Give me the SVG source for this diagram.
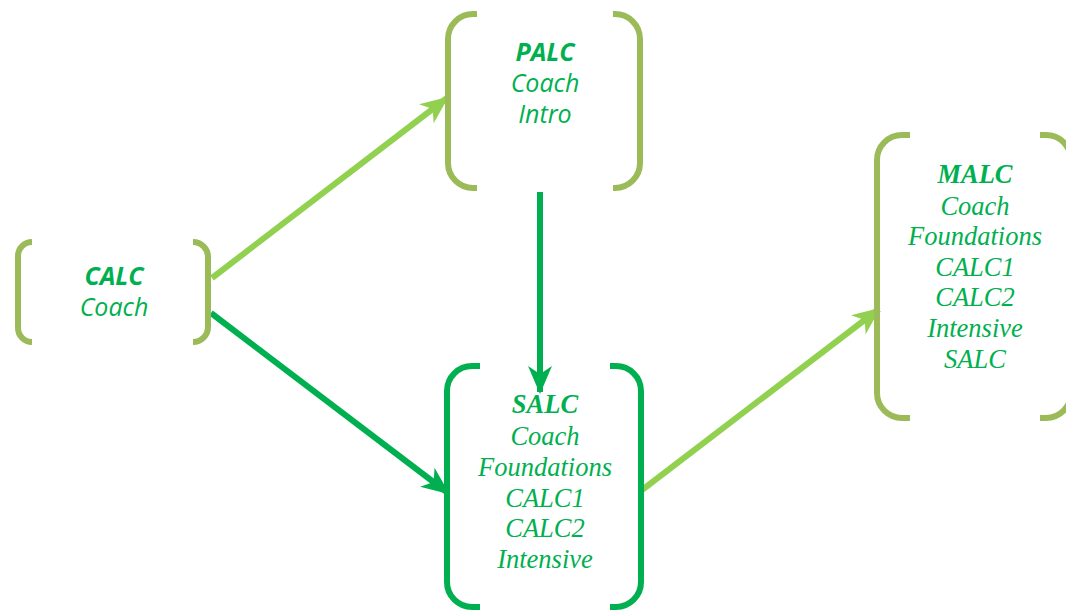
<svg xmlns="http://www.w3.org/2000/svg" width="1066" height="611" viewBox="0 0 1066 611">
<defs>
<style>
.br{fill:none;stroke-width:6}
.olive{stroke:#9BBB59}
.dark{stroke:#00B050}
.ln{fill:none;stroke-width:6}
.sans{font-family:"Open Sans","DejaVu Sans",sans-serif;font-style:italic;font-size:25px;fill:#00B050;text-anchor:middle}
.serif{font-family:"Liberation Serif","Times New Roman",serif;font-style:italic;font-size:26.5px;fill:#00B050;text-anchor:middle}
.b{font-weight:bold}
</style>
<marker id="al" markerUnits="userSpaceOnUse" markerWidth="28" markerHeight="24" refX="26" refY="12" orient="auto" viewBox="0 0 28 24">
<path d="M0,0 L28,12 L0,24 L8,12 Z" fill="#92D050"/>
</marker>
<marker id="ad" markerUnits="userSpaceOnUse" markerWidth="28" markerHeight="24" refX="26" refY="12" orient="auto" viewBox="0 0 28 24">
<path d="M0,0 L28,12 L0,24 L8,12 Z" fill="#00B050"/>
</marker>
</defs>
<rect width="1066" height="611" fill="#fff"/>
<g id="connectors">
<line class="ln" x1="212" y1="278" x2="447" y2="98" stroke="#92D050" marker-end="url(#al)"/>
<line class="ln" x1="211" y1="313" x2="448" y2="493" stroke="#00B050" marker-end="url(#ad)"/>
<line class="ln" x1="540" y1="192" x2="540" y2="392" stroke="#00B050" stroke-width="7" marker-end="url(#ad)"/>
<line class="ln" x1="642" y1="490" x2="879" y2="309" stroke="#92D050" marker-end="url(#al)"/>
</g>
<g id="calc">
<path class="br olive" d="M32,242 A14,14 0 0 0 18,256 V328 A14,14 0 0 0 32,342"/>
<path class="br olive" d="M193,242 A15,15 0 0 1 208,257 V327 A15,15 0 0 1 193,342"/>
<text class="sans"><tspan class="b" x="114" y="285">CALC</tspan><tspan x="114" y="316">Coach</tspan></text>
</g>
<g id="palc">
<path class="br olive" d="M477,14 H473 A25,25 0 0 0 448,39 V163 A25,25 0 0 0 473,188 H477"/>
<path class="br olive" d="M613,14 H615 A25,25 0 0 1 640,39 V163 A25,25 0 0 1 615,188 H613"/>
<text class="sans"><tspan class="b" x="545" y="61">PALC</tspan><tspan x="545" y="92">Coach</tspan><tspan x="545" y="123">Intro</tspan></text>
</g>
<g id="salc">
<path class="br dark" d="M480,366 H472 A25,25 0 0 0 447,391 V582 A25,25 0 0 0 472,607 H480"/>
<path class="br dark" d="M610,366 H616 A25,25 0 0 1 641,391 V582 A25,25 0 0 1 616,607 H610"/>
<text class="serif"><tspan class="b" x="545" y="413">SALC</tspan><tspan x="545" y="445">Coach</tspan><tspan x="545" y="476">Foundations</tspan><tspan x="545" y="507">CALC1</tspan><tspan x="545" y="537">CALC2</tspan><tspan x="545" y="568">Intensive</tspan></text>
</g>
<g id="malc">
<path class="br olive" d="M910,135 H902 A25,25 0 0 0 877,160 V393 A25,25 0 0 0 902,418 H910"/>
<path class="br olive" d="M1040,135 H1046 A25,25 0 0 1 1071,160 V393 A25,25 0 0 1 1046,418 H1040"/>
<text class="serif"><tspan class="b" x="975" y="183">MALC</tspan><tspan x="975" y="215">Coach</tspan><tspan x="975" y="245">Foundations</tspan><tspan x="975" y="276">CALC1</tspan><tspan x="975" y="306">CALC2</tspan><tspan x="975" y="337">Intensive</tspan><tspan x="975" y="368">SALC</tspan></text>
</g>
</svg>
